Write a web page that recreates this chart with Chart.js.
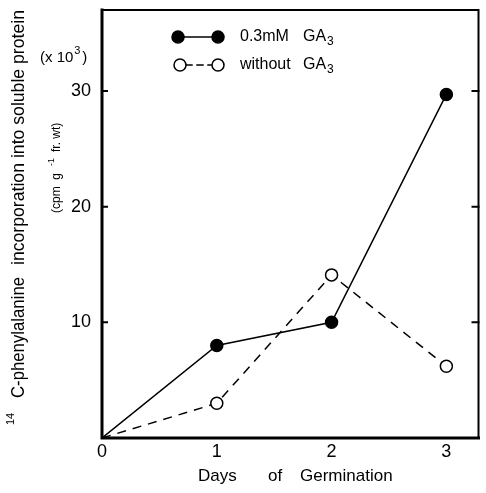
<!DOCTYPE html>
<html>
<head>
<meta charset="utf-8">
<script src="https://cdn.jsdelivr.net/npm/chart.js@4/dist/chart.umd.min.js"></script>
<style>body{margin:0;background:#fff}</style>
</head>
<body>
<canvas id="chart" width="486" height="493"></canvas>
<script>
// days of germination and 14C-phe incorporation (x10^3 cpm/g fr. wt)
const days = [0, 1, 2, 3]
const withGA3 = [0, 8, 10, 29.7]
const withoutGA3 = [0, 3, 14.1, 6.2]
const xTicks = [0, 1, 2, 3]
const yTicks = [10, 20, 30]
const seriesNames = ['0.3mM', 'without']

const FONT = '"Liberation Sans", Arial, sans-serif'

const toPts = (ys) => days.map((d, i) => ({x: d, y: ys[i]}))

// frame, inner ticks, legend and axis titles
const paperPlugin = {
  id: 'paper',
  afterDraw(chart) {
    const c = chart.ctx
    const a = chart.chartArea
    const ys = chart.scales.y
    c.save()
    c.strokeStyle = '#000'
    c.lineCap = 'square'
    c.lineWidth = 3
    c.beginPath()
    c.moveTo(a.left, a.top); c.lineTo(a.left, a.bottom); c.lineTo(a.right, a.bottom)
    c.stroke()
    c.lineWidth = 2
    c.beginPath()
    c.moveTo(a.left, a.top); c.lineTo(a.right, a.top); c.lineTo(a.right, a.bottom)
    c.stroke()
    yTicks.forEach(v => {
      const py = ys.getPixelForValue(v)
      c.beginPath()
      c.moveTo(a.left, py); c.lineTo(a.left + 5, py)
      c.moveTo(a.right, py); c.lineTo(a.right - 6, py)
      c.stroke()
    })

    // legend
    c.lineWidth = 1.5
    const rows = [{y: 37, x0: 178, x1: 218, dash: [], fill: '#000'},
                  {y: 65, x0: 180, x1: 218, dash: [6, 5], fill: '#fff'}]
    rows.forEach((r, i) => {
      c.setLineDash(r.dash)
      c.beginPath(); c.moveTo(r.x0 + 6, r.y); c.lineTo(r.x1 - 6, r.y); c.stroke()
      c.setLineDash([])
      ;[r.x0, r.x1].forEach(px => {
        c.beginPath(); c.arc(px, r.y, 6, 0, Math.PI * 2)
        c.fillStyle = r.fill; c.fill(); c.stroke()
      })
      c.fillStyle = '#000'
      c.font = '16px ' + FONT
      c.textBaseline = 'middle'
      c.textAlign = 'left'
      c.fillText(seriesNames[i], 240, r.y)
      c.fillText('GA', 303, r.y)
      const gw = c.measureText('GA').width
      c.font = '12px ' + FONT
      c.fillText('3', 303 + gw + 1, r.y + 5)
    })

    // x title
    c.font = '17px ' + FONT
    c.fillText('Days', 198, 476)
    c.fillText('of', 268, 476)
    c.fillText('Germination', 300, 476)

    // (x 10^3)
    c.font = '15px ' + FONT
    c.fillText('(x 10', 40, 58)
    const w = c.measureText('(x 10').width
    c.font = '11px ' + FONT
    c.fillText('3', 40 + w + 1, 51)
    c.font = '15px ' + FONT
    c.fillText(')', 40 + w + 9, 58)

    // y title, rotated
    c.rotate(-Math.PI / 2)
    c.textBaseline = 'alphabetic'
    c.font = '18px ' + FONT
    c.fillText('C-phenylalanine', -398, 24, 121)
    c.fillText('incorporation into soluble protein', -265, 24, 255)
    c.font = '11px ' + FONT
    c.fillText('14', -425, 14)
    c.font = '12px ' + FONT
    c.fillText('(cpm  g', -213, 60, 46)
    c.font = '9px ' + FONT
    c.fillText('-1', -166, 54)
    c.font = '12px ' + FONT
    c.fillText('fr. wt)', -152, 60, 45)
    c.restore()
  }
}

new Chart(document.getElementById('chart'), {
  type: 'line',
  data: {
    datasets: [{
      label: seriesNames[0],
      data: toPts(withGA3),
      borderColor: '#000',
      borderWidth: 1.5,
      backgroundColor: '#000',
      pointRadius: [0, 6, 6, 6],
      pointBackgroundColor: '#000',
      pointBorderColor: '#000',
      tension: 0
    }, {
      label: seriesNames[1],
      data: toPts(withoutGA3),
      borderColor: '#000',
      borderWidth: 1.5,
      borderDash: [9, 7],
      pointRadius: [0, 6, 6, 6],
      pointBackgroundColor: '#fff',
      pointBorderColor: '#000',
      pointBorderWidth: 1.5,
      tension: 0
    }]
  },
  options: {
    responsive: false,
    animation: false,
    layout: {padding: {top: 10, right: 6, left: 0, bottom: 0}},
    plugins: {legend: {display: false}, tooltip: {enabled: false}},
    scales: {
      x: {
        type: 'linear',
        min: 0,
        max: 3.28,
        grid: {display: false},
        border: {display: false},
        afterBuildTicks: s => { s.ticks = xTicks.map(v => ({value: v})) },
        afterFit: s => { s.height = 55; s.paddingLeft = 0; s.paddingRight = 0 },
        ticks: {color: '#000', padding: -5, font: {family: FONT, size: 18}}
      },
      y: {
        min: 0,
        max: 37,
        grid: {display: false},
        border: {display: false},
        afterBuildTicks: s => { s.ticks = yTicks.map(v => ({value: v})) },
        afterFit: s => { s.width = 102; s.paddingTop = 0; s.paddingBottom = 0 },
        ticks: {color: '#000', padding: 3, font: {family: FONT, size: 18}}
      }
    }
  },
  plugins: [paperPlugin]
})
</script>
</body>
</html>
